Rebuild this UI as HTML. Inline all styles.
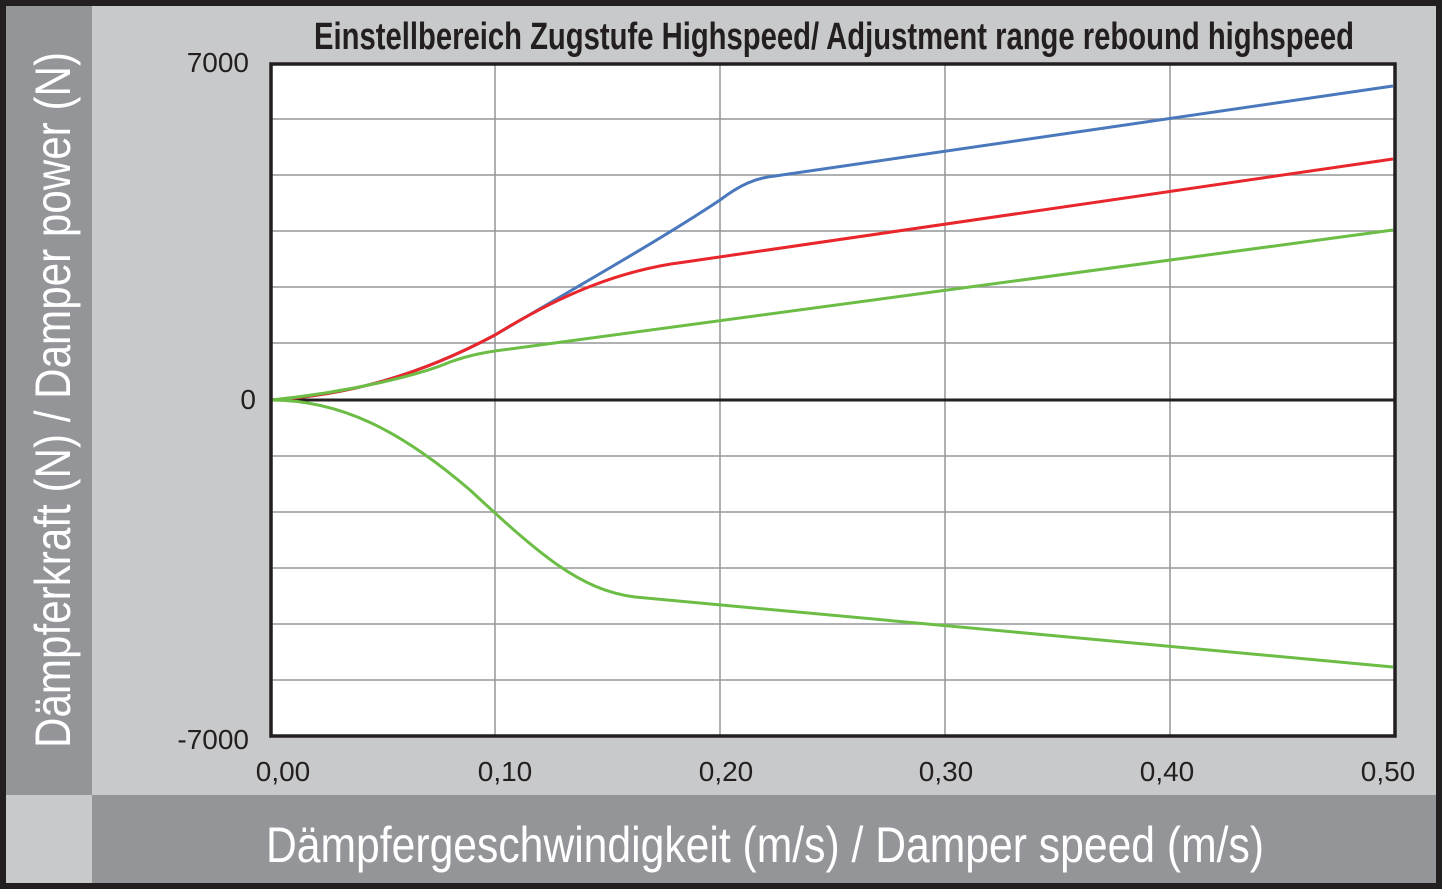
<!DOCTYPE html>
<html><head><meta charset="utf-8"><style>
html,body{margin:0;padding:0;}
body{width:1442px;height:889px;position:relative;background:#231f20;overflow:hidden;font-family:"Liberation Sans Narrow","Liberation Sans",sans-serif;}
</style></head><body>
<svg width="1442" height="889" xmlns="http://www.w3.org/2000/svg" style="position:absolute;left:0;top:0">
<rect x="6" y="6" width="1430" height="877" fill="#c8c9ca"/>
<rect x="6" y="6" width="86" height="789" fill="#939598"/>
<rect x="92" y="795" width="1344" height="88" fill="#939598"/>
<rect x="271" y="64" width="1124" height="672" fill="#fff"/>
<g stroke="#939598" stroke-width="1.5">
<line x1="495" y1="64" x2="495" y2="736"/><line x1="720" y1="64" x2="720" y2="736"/>
<line x1="945" y1="64" x2="945" y2="736"/><line x1="1170" y1="64" x2="1170" y2="736"/>
<line x1="271" y1="119" x2="1395" y2="119"/><line x1="271" y1="175" x2="1395" y2="175"/>
<line x1="271" y1="231" x2="1395" y2="231"/><line x1="271" y1="287" x2="1395" y2="287"/>
<line x1="271" y1="343" x2="1395" y2="343"/><line x1="271" y1="456" x2="1395" y2="456"/>
<line x1="271" y1="512" x2="1395" y2="512"/><line x1="271" y1="568" x2="1395" y2="568"/>
<line x1="271" y1="624" x2="1395" y2="624"/><line x1="271" y1="680" x2="1395" y2="680"/>
</g>
<line x1="271" y1="400" x2="1395" y2="400" stroke="#231f20" stroke-width="3"/>
<g fill="none" stroke-width="3">
<path d="M271,400 C350,395 420,375 495,335 C580,285 660,240 720,200 C740,185 755,178 775,176 L1393,86" stroke="#4a78bd"/>
<path d="M271,400 C350,395 420,375 495,335 C560,295 620,270 685,262 L1393,159" stroke="#e8262b"/>
<path d="M271,400 C350,392 420,375 450,362 C470,355 485,352 510,349 L1393,230" stroke="#6cbd45"/>
<path d="M271,400 C340,400 400,430 470,490 C540,555 580,590 635,597 L1393,667" stroke="#6cbd45"/>
</g>
<rect x="271" y="64" width="1124" height="672" fill="none" stroke="#231f20" stroke-width="3.5"/>
<g font-family="Liberation Sans Narrow, Liberation Sans, sans-serif" fill="#231f20" font-size="28">
<text x="249" y="72" text-anchor="end">7000</text>
<text x="256" y="409" text-anchor="end">0</text>
<text x="249" y="749" text-anchor="end">-7000</text>
<text x="283" y="781" text-anchor="middle">0,00</text>
<text x="505" y="781" text-anchor="middle">0,10</text>
<text x="726" y="781" text-anchor="middle">0,20</text>
<text x="946" y="781" text-anchor="middle">0,30</text>
<text x="1167" y="781" text-anchor="middle">0,40</text>
<text x="1388" y="781" text-anchor="middle">0,50</text>
<text x="834" y="49" text-anchor="middle" font-weight="bold" font-size="38" textLength="1040" lengthAdjust="spacingAndGlyphs">Einstellbereich Zugstufe Highspeed/ Adjustment range rebound highspeed</text>
</g>
<text x="765" y="862" text-anchor="middle" fill="#fff" font-family="Liberation Sans Narrow, Liberation Sans, sans-serif" font-size="50" textLength="998" lengthAdjust="spacingAndGlyphs">Dämpfergeschwindigkeit (m/s) / Damper speed (m/s)</text>
<text transform="translate(70,400) rotate(-90)" text-anchor="middle" fill="#fff" font-family="Liberation Sans Narrow, Liberation Sans, sans-serif" font-size="50" textLength="696" lengthAdjust="spacingAndGlyphs">Dämpferkraft (N) / Damper power (N)</text>
</svg>
</body></html>
